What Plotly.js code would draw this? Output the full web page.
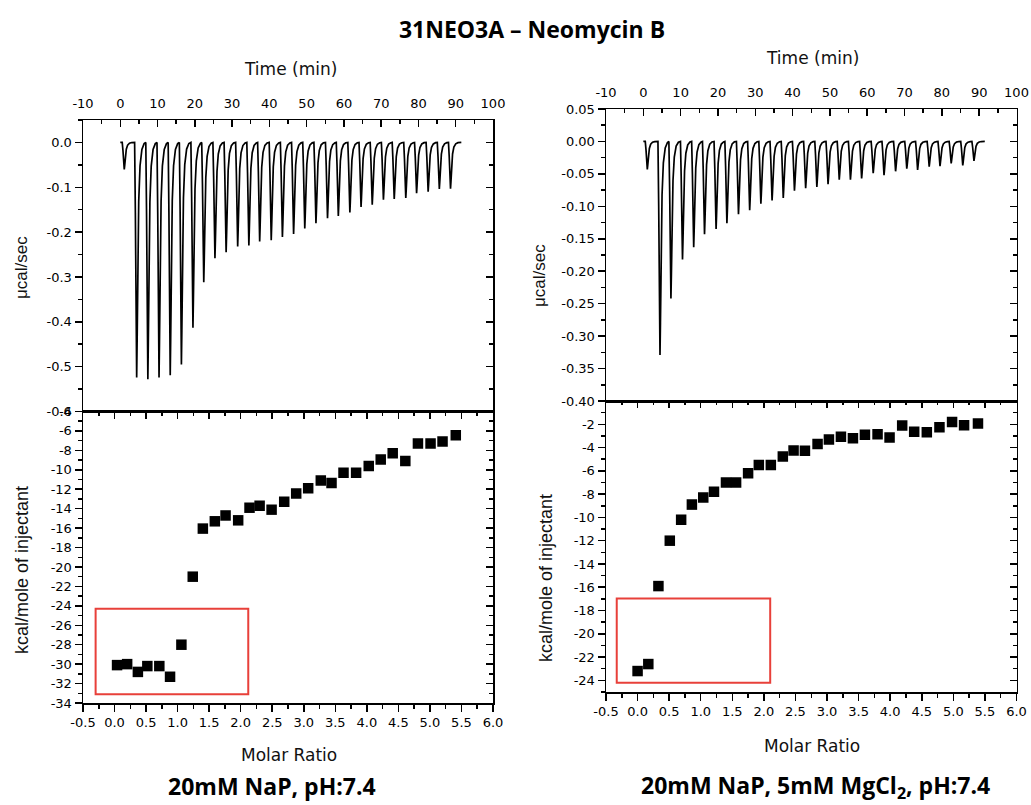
<!DOCTYPE html>
<html><head><meta charset="utf-8">
<script src="https://cdn.plot.ly/plotly-3.0.1.min.js"></script>
<style>html,body{margin:0;padding:0;background:#fff}#chart{width:1031px;height:805px}</style>
</head><body><div id="chart"></div><script>
// ---- data ----
const leftInjTime = [1.07,4.4,7.4,10.4,13.4,16.4,19.5,22.4,25.4,28.4,31.5,34.5,37.4,40.5,43.5,46.5,49.5,52.5,55.6,58.5,61.6,64.6,67.6,70.6,73.5,76.6,79.5,82.6,85.6,88.6];
const leftPeak = [-0.060,-0.524,-0.528,-0.524,-0.519,-0.495,-0.413,-0.312,-0.258,-0.245,-0.232,-0.230,-0.221,-0.218,-0.211,-0.204,-0.192,-0.180,-0.169,-0.164,-0.156,-0.144,-0.139,-0.128,-0.126,-0.124,-0.113,-0.110,-0.104,-0.103];
const rightInjTime = [1.07,4.47,7.4,10.5,13.5,16.4,19.5,22.4,25.5,28.5,31.5,34.5,37.5,40.5,43.5,46.5,49.5,52.5,55.5,58.5,61.6,64.5,67.6,70.6,73.5,76.6,79.5,82.5,85.6,88.6];
const rightPeak = [-0.043,-0.329,-0.242,-0.182,-0.163,-0.143,-0.135,-0.126,-0.112,-0.106,-0.096,-0.091,-0.087,-0.076,-0.072,-0.070,-0.066,-0.059,-0.059,-0.057,-0.049,-0.052,-0.046,-0.042,-0.044,-0.039,-0.038,-0.034,-0.037,-0.030];
const leftRatio = [0.04,0.20,0.37,0.52,0.71,0.88,1.06,1.24,1.40,1.59,1.76,1.96,2.14,2.30,2.49,2.69,2.88,3.07,3.27,3.44,3.63,3.83,4.03,4.22,4.41,4.61,4.81,5.01,5.20,5.41];
const leftHeat = [-30.1,-30.0,-30.8,-30.2,-30.2,-31.3,-28.0,-21.0,-16.05,-15.3,-14.7,-15.2,-13.9,-13.7,-14.1,-13.3,-12.45,-11.9,-11.1,-11.35,-10.3,-10.3,-9.6,-8.95,-8.3,-9.1,-7.3,-7.3,-7.1,-6.45];
const rightRatio = [0.0,0.17,0.33,0.51,0.69,0.86,1.04,1.21,1.40,1.56,1.75,1.92,2.11,2.30,2.47,2.65,2.85,3.03,3.22,3.41,3.60,3.80,3.99,4.19,4.38,4.58,4.78,4.98,5.17,5.39];
const rightHeat = [-23.2,-22.6,-15.9,-12.0,-10.2,-8.9,-8.3,-7.8,-7.0,-7.0,-6.2,-5.5,-5.5,-4.76,-4.25,-4.28,-3.7,-3.3,-3.08,-3.2,-2.9,-2.85,-3.14,-2.1,-2.65,-2.68,-2.26,-1.8,-2.08,-1.94];

// ---- tick labels ----
const timeTicks = [-10,0,10,20,30,40,50,60,70,80,90,100];
const leftRateTicks = [0,-0.1,-0.2,-0.3,-0.4,-0.5,-0.6];
const rightRateTicks = [0.05,0,-0.05,-0.1,-0.15,-0.2,-0.25,-0.3,-0.35,-0.4];
const ratioTicks = [-0.5,0,0.5,1,1.5,2,2.5,3,3.5,4,4.5,5,5.5,6];
const leftHeatTicks = [-4,-6,-8,-10,-12,-14,-16,-18,-20,-22,-24,-26,-28,-30,-32,-34];
const rightHeatTicks = [-2,-4,-6,-8,-10,-12,-14,-16,-18,-20,-22,-24];

// build a thermogram line from injection peaks
function thermogram(times, peaks, tEnd) {
  const offs = [-0.55,-0.35,-0.15,0,0.12,0.3,0.55,0.9,1.4,2.0];
  const frac = [0,0.3,0.8,1,0.85,0.5,0.25,0.1,0.03,0.005];
  const x=[0], y=[0];
  times.forEach((t,i)=>{ offs.forEach((o,k)=>{ x.push(t+o); y.push(peaks[i]*frac[k]); }); });
  x.push(tEnd); y.push(0);
  return {x, y};
}
const fmt = (arr, d) => arr.map(v => v.toFixed(d));

const W=1031, H=805;
const px = v => v/W, py = v => 1 - v/H;
const tickFont = {family:'DejaVu Sans', size:13, color:'#000'};
function axis(o){
  return Object.assign({showline:true, linecolor:'#000', linewidth:1.5, mirror:true,
    ticks:'outside', ticklen:7, tickwidth:1.5, tickcolor:'#000', showgrid:false, zeroline:false,
    tickfont:tickFont, fixedrange:true, tickmode:'array'}, o);
}
function overlay(o){
  return Object.assign({showline:false, showgrid:false, zeroline:false, showticklabels:false,
    ticks:'inside', ticklen:7, tickwidth:1.5, tickcolor:'#000', fixedrange:true}, o);
}
const minorOut = d => ({ticks:'outside', ticklen:4, tickwidth:1.5, tickcolor:'#000', tickmode:'linear', tick0:0, dtick:d});
const minorIn = d => ({ticks:'inside', ticklen:4, tickwidth:1.5, tickcolor:'#000', tickmode:'linear', tick0:0, dtick:d});

const LT = thermogram(leftInjTime, leftPeak, 91.5);
const RT = thermogram(rightInjTime, rightPeak, 91.5);
const line = {color:'#000', width:1.7};
const mk = {symbol:'square', size:10.5, color:'#000'};
const dummy = (xa, ya) => ({x:[null], y:[null], xaxis:xa, yaxis:ya, mode:'markers', showlegend:false, hoverinfo:'skip'});

const data = [
  {x:LT.x, y:LT.y, xaxis:'x', yaxis:'y', mode:'lines', line:line, showlegend:false},
  {x:leftRatio, y:leftHeat, xaxis:'x2', yaxis:'y2', mode:'markers', marker:mk, showlegend:false},
  {x:RT.x, y:RT.y, xaxis:'x3', yaxis:'y3', mode:'lines', line:line, showlegend:false},
  {x:rightRatio, y:rightHeat, xaxis:'x4', yaxis:'y4', mode:'markers', marker:mk, showlegend:false},
  dummy('x','y5'), dummy('x5','y2'), dummy('x2','y6'),
  dummy('x3','y7'), dummy('x6','y4'), dummy('x4','y8')
];

const LX=[px(83), px(493)], RX=[px(606), px(1016.5)];
const LTop=[py(411.5), py(120)], LBot=[py(703), py(411.5)];
const RTop=[py(401), py(109)], RBot=[py(692), py(401)];
const bigFont = {family:'Open Sans', size:23, weight:700, color:'#000'};

const layout = {
  width:W, height:H, margin:{l:0,r:0,t:0,b:0}, paper_bgcolor:'#fff', plot_bgcolor:'#fff',
  showlegend:false,
  title:{text:'31NEO3A – Neomycin B', x:px(532), xanchor:'center', y:py(30), yanchor:'middle', font:bigFont},
  // left panel
  xaxis: axis({domain:LX, anchor:'y', side:'top', range:[-10,100], tickvals:timeTicks, ticktext:fmt(timeTicks,0), ticks:'inside', ticklabelstandoff:5, minor:minorIn(5)}),
  yaxis: axis({domain:LTop, anchor:'x', range:[-0.6,0.05], tickvals:leftRateTicks, ticktext:fmt(leftRateTicks,1), minor:minorOut(0.05)}),
  yaxis5: overlay({overlaying:'y', anchor:'x', side:'right', range:[-0.6,0.05], dtick:0.1, tick0:0, minor:minorIn(0.05)}),
  xaxis2: axis({domain:LX, anchor:'y2', range:[-0.5,6], tickvals:ratioTicks, ticktext:fmt(ratioTicks,1), minor:minorOut(0.25)}),
  yaxis2: axis({domain:LBot, anchor:'x2', range:[-34,-4], tickvals:leftHeatTicks, ticktext:fmt(leftHeatTicks,0), minor:minorOut(1)}),
  xaxis5: overlay({overlaying:'x2', anchor:'y2', side:'top', range:[-0.5,6], dtick:0.5, tick0:0, minor:minorIn(0.25)}),
  yaxis6: overlay({overlaying:'y2', anchor:'x2', side:'right', range:[-34,-4], dtick:2, tick0:0, minor:minorIn(1)}),
  // right panel
  xaxis3: axis({domain:RX, anchor:'y3', side:'top', range:[-10,100], tickvals:timeTicks, ticktext:fmt(timeTicks,0), ticks:'inside', ticklabelstandoff:5, minor:minorIn(5)}),
  yaxis3: axis({domain:RTop, anchor:'x3', range:[-0.4,0.05], tickvals:rightRateTicks, ticktext:fmt(rightRateTicks,2), minor:minorOut(0.025)}),
  yaxis7: overlay({overlaying:'y3', anchor:'x3', side:'right', range:[-0.4,0.05], dtick:0.05, tick0:0, minor:minorIn(0.025)}),
  xaxis4: axis({domain:RX, anchor:'y4', range:[-0.5,6], tickvals:ratioTicks, ticktext:fmt(ratioTicks,1), minor:minorOut(0.25)}),
  yaxis4: axis({domain:RBot, anchor:'x4', range:[-25,0], tickvals:rightHeatTicks, ticktext:fmt(rightHeatTicks,0), minor:minorOut(1)}),
  xaxis6: overlay({overlaying:'x4', anchor:'y4', side:'top', range:[-0.5,6], dtick:0.5, tick0:0, minor:minorIn(0.25)}),
  yaxis8: overlay({overlaying:'y4', anchor:'x4', side:'right', range:[-25,0], tickmode:'array', tickvals:rightHeatTicks, minor:minorIn(1)}),
  shapes:[
    {type:'rect', xref:'x2', yref:'y2', x0:-0.30, x1:2.12, y0:-33.1, y1:-24.3, line:{color:'#e8403a', width:2}},
    {type:'rect', xref:'x4', yref:'y4', x0:-0.33, x1:2.10, y0:-24.2, y1:-16.97, line:{color:'#e8403a', width:2}}
  ],
  annotations:[
    {text:'Time (min)', x:px(290), y:py(69)},
    {text:'Time (min)', x:px(812), y:py(58)},
    {text:'Molar Ratio', x:px(289), y:py(755)},
    {text:'Molar Ratio', x:px(812), y:py(746)},
    {text:'μcal/sec', x:px(22), y:py(268), textangle:-90, font:{family:'Liberation Sans', size:17, color:'#111'}},
    {text:'μcal/sec', x:px(539), y:py(276), textangle:-90, font:{family:'Liberation Sans', size:17, color:'#111'}},
    {text:'kcal/mole of injectant', x:px(22), y:py(570), textangle:-90, font:{family:'Liberation Sans', size:18, color:'#111'}},
    {text:'kcal/mole of injectant', x:px(546), y:py(578), textangle:-90, font:{family:'Liberation Sans', size:18, color:'#111'}},
    {text:'20mM NaP, pH:7.4', x:px(272), y:py(786), font:bigFont},
    {text:'20mM NaP, 5mM MgCl<sub>2</sub>, pH:7.4', x:px(815), y:py(786), font:bigFont}
  ].map(a => Object.assign({xref:'paper', yref:'paper', showarrow:false, xanchor:'center', yanchor:'middle',
      font:{family:'DejaVu Sans', size:17, color:'#111'}}, a))
};

Plotly.newPlot('chart', data, layout, {staticPlot:true, displayModeBar:false});
</script></body></html>
